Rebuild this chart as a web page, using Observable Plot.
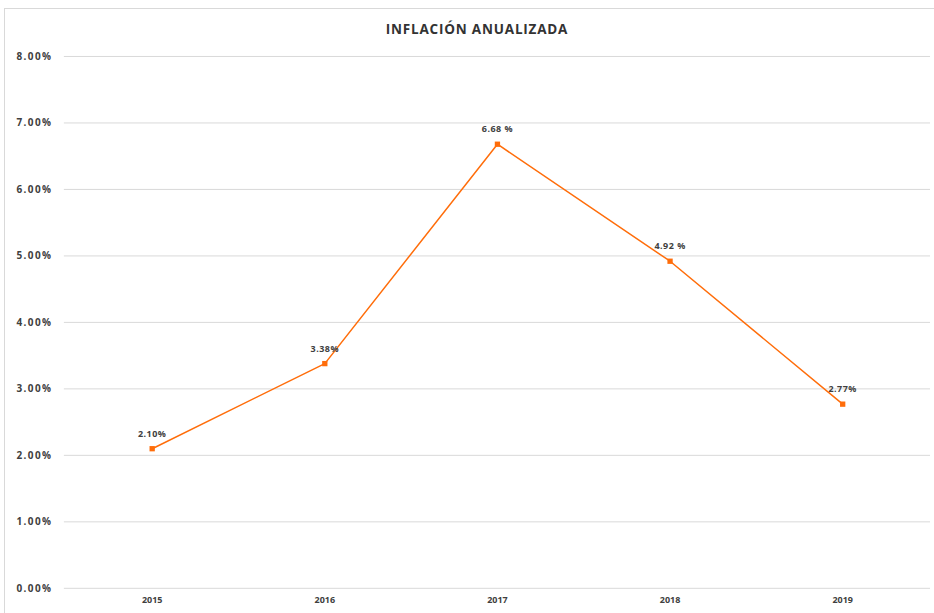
<!DOCTYPE html>
<html>
<head>
<meta charset="utf-8">
<script src="https://cdn.jsdelivr.net/npm/d3@7"></script>
<script src="https://cdn.jsdelivr.net/npm/@observablehq/plot@0.6"></script>
<style>
  html, body { margin: 0; padding: 0; background: #fff; }
  #wrap { position: relative; width: 934px; height: 613px; overflow: hidden; font-family: "Open Sans", "Liberation Sans", sans-serif; }
  #frame { position: absolute; left: 4px; top: 8px; width: 940px; height: 620px; border: 1px solid #d9d9d9; box-sizing: border-box; }
  #title { position: absolute; left: 0; width: 954px; top: 20px; text-align: center; font-size: 13.5px; font-weight: bold; color: #333; letter-spacing: 0.8px; }
  #chart { position: absolute; left: 0; top: 40px; }
  g[aria-label="y-axis tick label"] text { letter-spacing: 1.4px; }
  g[aria-label="text"] text { letter-spacing: 0.5px; }
</style>
</head>
<body>
<div id="wrap">
  <div id="frame"></div>
  <div id="title">INFLACIÓN ANUALIZADA</div>
  <div id="chart"></div>
</div>
<script>
const years = ["2015", "2016", "2017", "2018", "2019"];
const inflation = [0.0210, 0.0338, 0.0668, 0.0492, 0.0277];
const pointLabels = ["2.10%", "3.38%", "6.68 %", "4.92 %", "2.77%"];
const yTicks = [0, 0.01, 0.02, 0.03, 0.04, 0.05, 0.06, 0.07, 0.08];

const data = years.map((y, i) => ({year: y, value: inflation[i], label: pointLabels[i]}));

const chart = Plot.plot({
  width: 936,
  height: 573,
  marginTop: 16,
  marginBottom: 24,
  marginLeft: 64,
  marginRight: 4,
  style: {fontFamily: "'Open Sans', 'Liberation Sans', sans-serif", fontSize: "9px", color: "#404040", background: "transparent"},
  x: {type: "point", domain: years, padding: 0.5, label: null, tickSize: 0, tickPadding: 8},
  y: {domain: [0, 0.08], ticks: yTicks, tickFormat: d3.format(".2%"), label: null, tickSize: 0, tickPadding: 12},
  marks: [
    Plot.gridY(yTicks, {stroke: "#d9d9d9", strokeOpacity: 1, strokeWidth: 1}),
    Plot.axisY({ticks: yTicks, tickFormat: d3.format(".2%"), tickSize: 0, tickPadding: 12, fontWeight: "bold", fill: "#404040", fontSize: 10}),
    Plot.axisX({tickSize: 0, tickPadding: 8, fontWeight: "bold", fill: "#404040"}),
    Plot.line(data, {x: "year", y: "value", stroke: "#ff6d0a", strokeWidth: 1.5}),
    Plot.dot(data, {x: "year", y: "value", symbol: "square", r: 3, fill: "#ff6d0a", stroke: "none"}),
    Plot.text(data, {x: "year", y: "value", text: "label", dy: -15, fontWeight: "bold", fill: "#404040", fontSize: 9})
  ]
});
document.getElementById("chart").appendChild(chart);
</script>
</body>
</html>
